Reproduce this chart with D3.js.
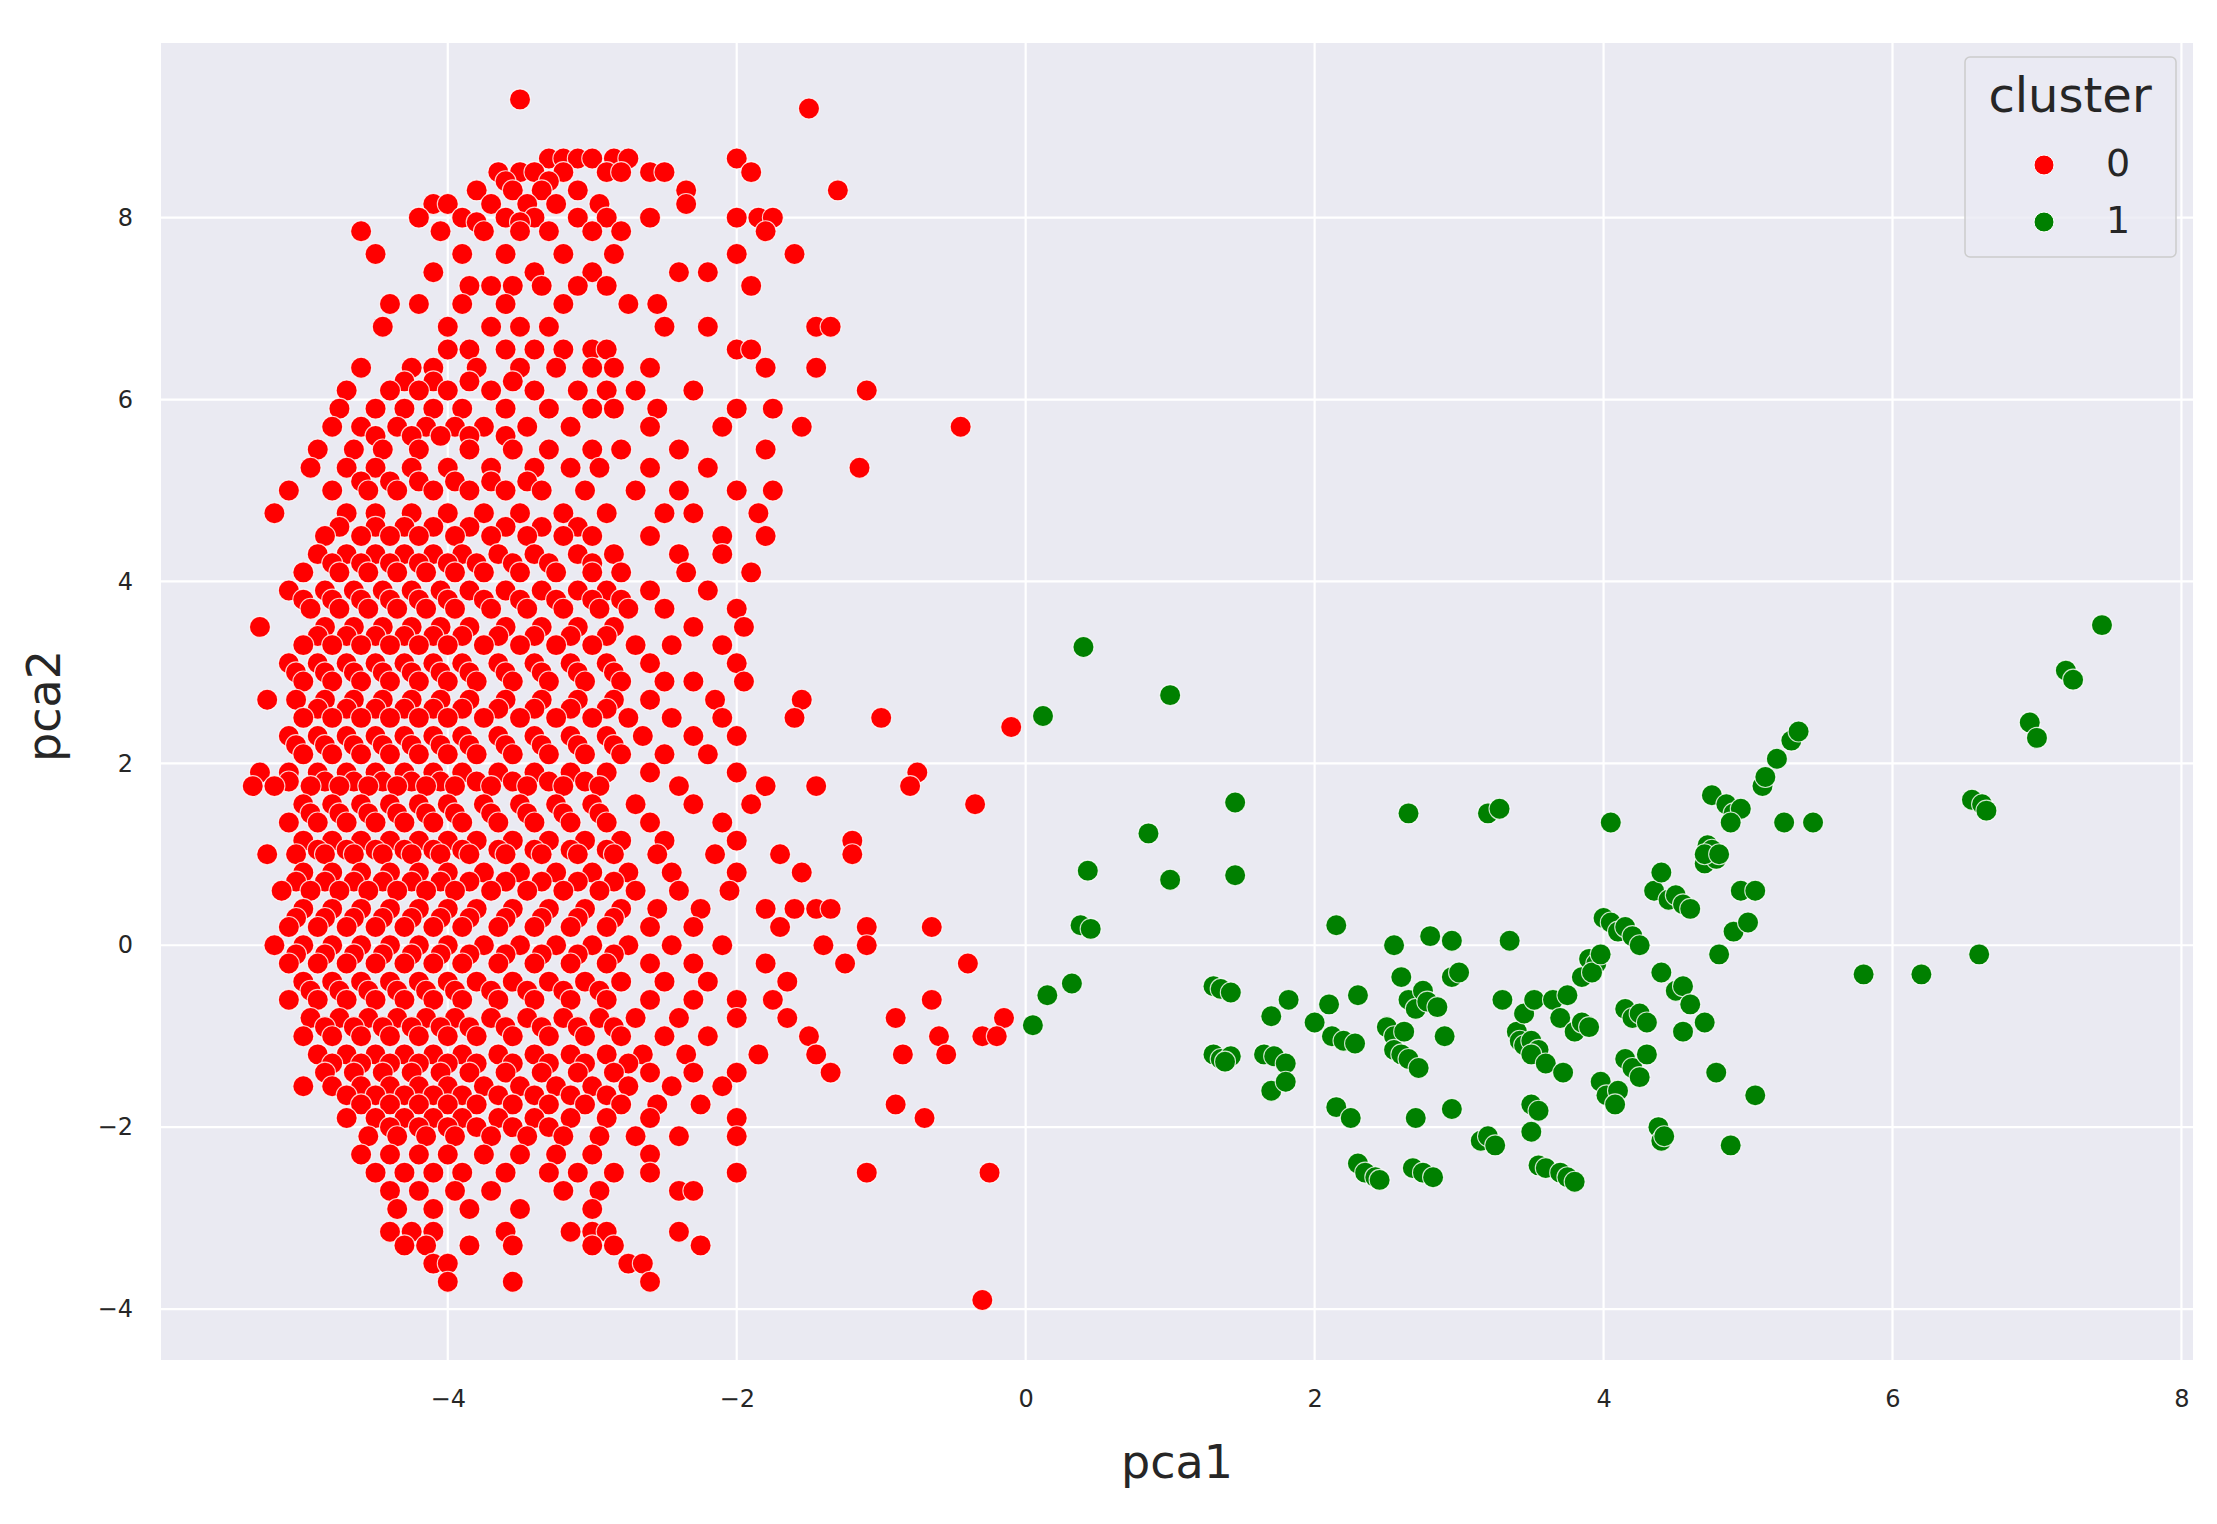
<!DOCTYPE html>
<html><head><meta charset="utf-8">
<script src="https://cdn.jsdelivr.net/npm/d3@7"></script>
<style>body{margin:0;background:#fff}svg text{font-family:"DejaVu Sans",sans-serif;fill:#262626}</style>
</head><body>
<script>
const xTicks=[-4,-2,0,2,4,6,8];
const yTicks=[-4,-2,0,2,4,6,8];
const clusters=["0","1"];
const colors=["red","green"];
// cluster 0: rows of [pca2, [pca1 values]]
const redRows=[
[9.3,[-3.5]],[9.2,[-1.5]],
[8.65,[-3.3,-3.2,-3.1,-3.0,-2.85,-2.75,-2.0]],
[8.5,[-3.65,-3.5,-3.4,-3.2,-2.9,-2.8,-2.6,-2.5,-1.9]],
[8.4,[-3.6,-3.3]],
[8.3,[-3.8,-3.55,-3.35,-3.1,-2.35,-1.3]],
[8.15,[-4.1,-4.0,-3.7,-3.45,-3.25,-2.95,-2.35]],
[8.0,[-4.2,-3.9,-3.6,-3.4,-3.1,-2.9,-2.6,-2.0,-1.85,-1.75]],
[7.95,[-3.8,-3.5]],
[7.85,[-4.6,-4.05,-3.75,-3.5,-3.3,-3.0,-2.8,-1.8]],
[7.6,[-4.5,-3.9,-3.6,-3.2,-2.85,-2.0,-1.6]],
[7.4,[-4.1,-3.4,-3.0,-2.4,-2.2]],
[7.25,[-3.85,-3.7,-3.55,-3.35,-3.1,-2.9,-1.9]],
[7.05,[-4.4,-4.2,-3.9,-3.6,-3.2,-2.75,-2.55]],
[6.8,[-4.45,-4.0,-3.7,-3.5,-3.3,-2.5,-2.2,-1.45,-1.35]],
[6.55,[-4.0,-3.85,-3.6,-3.4,-3.2,-3.0,-2.9,-2.0,-1.9]],
[6.35,[-4.6,-4.25,-4.1,-3.8,-3.5,-3.25,-3.0,-2.85,-2.6,-1.8,-1.45]],
[6.2,[-4.3,-4.1,-3.85,-3.55]],
[6.1,[-4.7,-4.4,-4.2,-4.0,-3.7,-3.4,-3.1,-2.9,-2.7,-2.3,-1.1]],
[5.9,[-4.75,-4.5,-4.3,-4.1,-3.9,-3.6,-3.3,-3.0,-2.85,-2.55,-2.0,-1.75]],
[5.7,[-4.8,-4.6,-4.35,-4.15,-3.95,-3.75,-3.45,-3.15,-2.6,-2.1,-1.55,-0.45]],
[5.6,[-4.5,-4.25,-4.05,-3.85,-3.6]],
[5.45,[-4.9,-4.65,-4.45,-4.2,-3.85,-3.55,-3.3,-3.0,-2.8,-2.4,-1.8]],
[5.25,[-4.95,-4.7,-4.5,-4.25,-4.0,-3.7,-3.4,-3.15,-2.95,-2.6,-2.2,-1.15]],
[5.1,[-4.6,-4.4,-4.2,-3.95,-3.7,-3.45]],
[5.0,[-5.1,-4.8,-4.55,-4.35,-4.1,-3.85,-3.6,-3.35,-3.05,-2.7,-2.4,-2.0,-1.75]],
[4.75,[-5.2,-4.7,-4.5,-4.25,-4.0,-3.75,-3.5,-3.2,-2.9,-2.5,-2.3,-1.85]],
[4.6,[-4.75,-4.5,-4.3,-4.1,-3.85,-3.6,-3.35,-3.1]],
[4.5,[-4.85,-4.6,-4.4,-4.2,-3.95,-3.7,-3.45,-3.2,-3.0,-2.6,-2.1,-1.8]],
[4.3,[-4.9,-4.7,-4.5,-4.3,-4.1,-3.9,-3.65,-3.4,-3.1,-2.85,-2.4,-2.1]],
[4.2,[-4.8,-4.6,-4.4,-4.2,-4.0,-3.8,-3.55,-3.3,-3.0]],
[4.1,[-5.0,-4.75,-4.55,-4.35,-4.15,-3.95,-3.75,-3.5,-3.25,-3.0,-2.8,-2.35,-1.9]],
[3.9,[-5.1,-4.85,-4.65,-4.45,-4.25,-4.05,-3.85,-3.6,-3.35,-3.1,-2.9,-2.6,-2.2]],
[3.8,[-5.0,-4.8,-4.6,-4.4,-4.2,-4.0,-3.75,-3.5,-3.25,-3.0,-2.8]],
[3.7,[-4.95,-4.75,-4.55,-4.35,-4.15,-3.95,-3.7,-3.45,-3.2,-2.95,-2.75,-2.5,-2.0]],
[3.5,[-5.3,-4.85,-4.65,-4.45,-4.25,-4.05,-3.85,-3.6,-3.35,-3.1,-2.85,-2.3,-1.95]],
[3.4,[-4.9,-4.7,-4.5,-4.3,-4.1,-3.9,-3.65,-3.4,-3.15,-2.9]],
[3.3,[-5.0,-4.8,-4.6,-4.4,-4.2,-4.0,-3.75,-3.5,-3.25,-3.0,-2.7,-2.45,-2.1]],
[3.1,[-5.1,-4.9,-4.7,-4.5,-4.3,-4.1,-3.9,-3.65,-3.4,-3.15,-2.9,-2.6,-2.0]],
[3.0,[-5.05,-4.85,-4.65,-4.45,-4.25,-4.05,-3.85,-3.6,-3.35,-3.1,-2.85]],
[2.9,[-5.0,-4.8,-4.6,-4.4,-4.2,-4.0,-3.8,-3.55,-3.3,-3.05,-2.8,-2.5,-2.3,-1.95]],
[2.7,[-5.25,-5.05,-4.85,-4.65,-4.45,-4.25,-4.05,-3.85,-3.6,-3.35,-3.1,-2.85,-2.6,-2.15,-1.55]],
[2.6,[-4.9,-4.7,-4.5,-4.3,-4.1,-3.9,-3.65,-3.4,-3.15,-2.9]],
[2.5,[-5.0,-4.8,-4.6,-4.4,-4.2,-4.0,-3.75,-3.5,-3.25,-3.0,-2.75,-2.45,-2.1,-1.6,-1.0]],
[2.4,[-0.1]],
[2.3,[-5.1,-4.9,-4.7,-4.5,-4.3,-4.1,-3.9,-3.65,-3.4,-3.15,-2.9,-2.65,-2.3,-2.0]],
[2.2,[-5.05,-4.85,-4.65,-4.45,-4.25,-4.05,-3.85,-3.6,-3.35,-3.1,-2.85]],
[2.1,[-5.0,-4.8,-4.6,-4.4,-4.2,-4.0,-3.8,-3.55,-3.3,-3.05,-2.8,-2.5,-2.2]],
[1.9,[-5.3,-5.1,-4.9,-4.7,-4.5,-4.3,-4.1,-3.9,-3.65,-3.4,-3.15,-2.9,-2.6,-2.0,-0.75]],
[1.8,[-5.1,-4.85,-4.65,-4.45,-4.25,-4.05,-3.8,-3.55,-3.3,-3.05]],
[1.75,[-5.35,-5.2,-4.95,-4.75,-4.55,-4.35,-4.15,-3.95,-3.7,-3.45,-3.2,-2.95,-2.4,-1.8,-1.45,-0.8]],
[1.55,[-5.0,-4.8,-4.6,-4.4,-4.2,-4.0,-3.75,-3.5,-3.25,-3.0,-2.7,-2.3,-1.9,-0.35]],
[1.45,[-4.95,-4.75,-4.55,-4.35,-4.15,-3.95,-3.7,-3.45,-3.2,-2.95]],
[1.35,[-5.1,-4.9,-4.7,-4.5,-4.3,-4.1,-3.9,-3.65,-3.4,-3.15,-2.9,-2.6,-2.1]],
[1.15,[-5.0,-4.8,-4.6,-4.4,-4.2,-4.0,-3.8,-3.55,-3.3,-3.05,-2.8,-2.5,-2.0,-1.2]],
[1.05,[-4.9,-4.7,-4.5,-4.3,-4.1,-3.9,-3.65,-3.4,-3.15,-2.9]],
[1.0,[-5.25,-5.05,-4.85,-4.65,-4.45,-4.25,-4.05,-3.85,-3.6,-3.35,-3.1,-2.85,-2.55,-2.15,-1.7,-1.2]],
[0.8,[-5.0,-4.8,-4.6,-4.4,-4.2,-4.0,-3.75,-3.5,-3.25,-3.0,-2.75,-2.45,-2.0,-1.55]],
[0.7,[-5.05,-4.85,-4.65,-4.45,-4.25,-4.05,-3.85,-3.6,-3.35,-3.1,-2.85]],
[0.6,[-5.15,-4.95,-4.75,-4.55,-4.35,-4.15,-3.95,-3.7,-3.45,-3.2,-2.95,-2.7,-2.4,-2.05]],
[0.4,[-5.0,-4.8,-4.6,-4.4,-4.2,-4.0,-3.8,-3.55,-3.3,-3.05,-2.8,-2.55,-2.25,-1.8,-1.45,-1.35,-1.6]],
[0.3,[-5.05,-4.85,-4.65,-4.45,-4.25,-4.05,-3.85,-3.6,-3.35,-3.1,-2.85]],
[0.2,[-5.1,-4.9,-4.7,-4.5,-4.3,-4.1,-3.9,-3.65,-3.4,-3.15,-2.9,-2.6,-2.3,-1.7,-1.1,-0.65]],
[0.0,[-5.2,-5.0,-4.8,-4.6,-4.4,-4.2,-4.0,-3.75,-3.5,-3.25,-3.0,-2.75,-2.45,-2.1,-1.4,-1.1]],
[-0.1,[-5.05,-4.85,-4.65,-4.45,-4.25,-4.05,-3.85,-3.6,-3.35,-3.1,-2.85]],
[-0.2,[-5.1,-4.9,-4.7,-4.5,-4.3,-4.1,-3.9,-3.65,-3.4,-3.15,-2.9,-2.6,-2.3,-1.8,-1.25,-0.4]],
[-0.4,[-5.0,-4.8,-4.6,-4.4,-4.2,-4.0,-3.8,-3.55,-3.3,-3.05,-2.8,-2.5,-2.2,-1.65]],
[-0.5,[-4.95,-4.75,-4.55,-4.35,-4.15,-3.95,-3.7,-3.45,-3.2,-2.95]],
[-0.6,[-5.1,-4.9,-4.7,-4.5,-4.3,-4.1,-3.9,-3.65,-3.4,-3.15,-2.9,-2.6,-2.3,-2.0,-1.75,-0.65]],
[-0.8,[-4.95,-4.75,-4.55,-4.35,-4.15,-3.95,-3.7,-3.45,-3.2,-2.95,-2.7,-2.4,-2.0,-1.65,-0.9,-0.15]],
[-0.9,[-4.85,-4.65,-4.45,-4.25,-4.05,-3.85,-3.6,-3.35,-3.1,-2.85]],
[-1.0,[-5.0,-4.8,-4.6,-4.4,-4.2,-4.0,-3.8,-3.55,-3.3,-3.05,-2.8,-2.5,-2.2,-1.5,-0.6,-0.3,-0.2]],
[-1.2,[-4.9,-4.7,-4.5,-4.3,-4.1,-3.9,-3.65,-3.4,-3.15,-2.9,-2.65,-2.35,-1.85,-1.45,-0.85,-0.55]],
[-1.3,[-4.8,-4.6,-4.4,-4.2,-4.0,-3.8,-3.55,-3.3,-3.05,-2.75]],
[-1.4,[-4.85,-4.65,-4.45,-4.25,-4.05,-3.85,-3.6,-3.35,-3.1,-2.85,-2.6,-2.3,-2.0,-1.35]],
[-1.55,[-5.0,-4.8,-4.6,-4.4,-4.2,-4.0,-3.75,-3.5,-3.25,-3.0,-2.75,-2.45,-2.1]],
[-1.65,[-4.7,-4.5,-4.3,-4.1,-3.9,-3.65,-3.4,-3.15,-2.9]],
[-1.75,[-4.6,-4.4,-4.2,-4.0,-3.8,-3.55,-3.3,-3.05,-2.8,-2.55,-2.25,-0.9]],
[-1.9,[-4.7,-4.5,-4.3,-4.1,-3.9,-3.65,-3.4,-3.15,-2.9,-2.6,-2.0,-0.7]],
[-2.0,[-4.4,-4.2,-4.0,-3.8,-3.55,-3.3]],
[-2.1,[-4.55,-4.35,-4.15,-3.95,-3.7,-3.45,-3.2,-2.95,-2.7,-2.4,-2.0]],
[-2.3,[-4.6,-4.4,-4.2,-4.0,-3.75,-3.5,-3.25,-3.0,-2.6]],
[-2.5,[-4.5,-4.3,-4.1,-3.9,-3.6,-3.3,-3.1,-2.85,-2.6,-2.0,-1.1,-0.25]],
[-2.7,[-4.4,-4.2,-3.95,-3.7,-3.2,-2.95,-2.4,-2.3]],
[-2.9,[-4.35,-4.1,-3.85,-3.5,-3.0]],
[-3.15,[-4.4,-4.25,-4.1,-3.6,-3.15,-3.0,-2.9,-2.4]],
[-3.3,[-4.3,-4.15,-3.85,-3.55,-3.0,-2.85,-2.25]],
[-3.5,[-4.1,-4.0,-2.75,-2.65]],
[-3.7,[-4.0,-3.55,-2.6]],
[-3.9,[-0.3]]
];
// cluster 1: [pca1, pca2]
const greenPts=[[0.05,-0.88],[0.15,-0.55],[0.12,2.52],[0.4,3.28],[0.32,-0.42],[0.38,0.22],[0.45,0.18],[0.43,0.82],[0.85,1.23],[1.0,2.75],[1.0,0.72],[1.45,1.57],[1.45,0.77],[1.3,-0.45],[1.35,-0.48],[1.42,-0.52],[1.3,-1.2],[1.35,-1.25],[1.42,-1.22],[1.38,-1.28],[1.7,-0.78],[1.82,-0.6],[1.65,-1.2],[1.72,-1.22],[1.8,-1.3],[1.7,-1.6],[1.8,-1.5],[2.0,-0.85],[2.1,-0.65],[2.15,0.22],[2.12,-1.0],[2.2,-1.05],[2.28,-1.08],[2.15,-1.78],[2.25,-1.9],[2.3,-2.4],[2.35,-2.5],[2.42,-2.55],[2.45,-2.58],[2.3,-0.55],[2.5,-0.9],[2.55,-1.0],[2.55,-1.15],[2.6,-1.2],[2.65,-1.25],[2.72,-1.35],[2.55,0.0],[2.6,-0.35],[2.65,-0.6],[2.7,-0.7],[2.62,-0.95],[2.75,-0.5],[2.78,-0.62],[2.85,-0.68],[2.8,0.1],[2.95,0.05],[2.95,-0.35],[3.0,-0.3],[2.9,-1.0],[2.65,1.45],[2.7,-1.9],[2.95,-1.8],[2.68,-2.45],[2.75,-2.5],[2.82,-2.55],[3.15,-2.15],[3.2,-2.1],[3.25,-2.2],[3.2,1.45],[3.28,1.5],[3.35,0.05],[3.3,-0.6],[3.4,-0.95],[3.42,-1.05],[3.45,-1.1],[3.5,-1.05],[3.55,-1.15],[3.5,-1.2],[3.6,-1.3],[3.45,-0.75],[3.52,-0.6],[3.5,-1.75],[3.55,-1.82],[3.5,-2.05],[3.55,-2.42],[3.6,-2.45],[3.7,-2.5],[3.75,-2.55],[3.8,-2.6],[3.65,-0.6],[3.7,-0.8],[3.75,-0.55],[3.8,-0.95],[3.85,-0.85],[3.9,-0.9],[3.72,-1.4],[3.85,-0.35],[3.9,-0.15],[3.95,-0.2],[3.92,-0.3],[3.98,-0.1],[4.0,0.3],[4.05,0.25],[4.1,0.15],[4.15,0.2],[4.2,0.1],[4.25,0.0],[4.05,1.35],[3.98,-1.5],[4.02,-1.65],[4.1,-1.6],[4.08,-1.75],[4.15,-0.7],[4.2,-0.8],[4.25,-0.75],[4.3,-0.85],[4.15,-1.25],[4.2,-1.35],[4.25,-1.45],[4.3,-1.2],[4.35,0.6],[4.4,0.8],[4.45,0.5],[4.5,0.55],[4.55,0.45],[4.6,0.4],[4.38,-2.0],[4.4,-2.15],[4.42,-2.1],[4.4,-0.3],[4.5,-0.5],[4.55,-0.45],[4.6,-0.65],[4.55,-0.95],[4.7,-0.85],[4.7,0.9],[4.72,1.1],[4.75,1.05],[4.78,0.95],[4.7,1.0],[4.8,1.0],[4.75,1.65],[4.85,1.55],[4.9,1.45],[4.95,1.5],[4.88,1.35],[4.9,0.15],[5.0,0.25],[4.95,0.6],[4.8,-0.1],[4.78,-1.4],[4.88,-2.2],[5.05,0.6],[5.05,-1.65],[5.1,1.75],[5.12,1.85],[5.2,2.05],[5.3,2.25],[5.35,2.35],[5.25,1.35],[5.45,1.35],[5.8,-0.32],[6.2,-0.32],[6.55,1.6],[6.62,1.55],[6.65,1.48],[6.6,-0.1],[6.95,2.45],[7.0,2.28],[7.2,3.02],[7.25,2.92],[7.45,3.52]];

const W=2217,H=1524,L=161,R=2193,T=43,B=1360;
const svg=d3.select("body").append("svg").attr("width",W).attr("height",H);
const x=d3.scaleLinear().domain([-5.985,8.08]).range([L,R]);
const y=d3.scaleLinear().domain([-4.56,9.92]).range([B,T]);
svg.append("rect").attr("x",L).attr("y",T).attr("width",R-L).attr("height",B-T).attr("fill","#eaeaf2");
const g=svg.append("g");
g.selectAll(".gx").data(xTicks).join("line").attr("x1",d=>x(d)).attr("x2",d=>x(d)).attr("y1",T).attr("y2",B).attr("stroke","#fff").attr("stroke-width",2.2);
g.selectAll(".gy").data(yTicks).join("line").attr("y1",d=>y(d)).attr("y2",d=>y(d)).attr("x1",L).attr("x2",R).attr("stroke","#fff").attr("stroke-width",2.2);
const fmt=d=>d<0?"\u2212"+Math.abs(d):String(d);
const ax=svg.append("g").attr("transform",`translate(0,${B})`).call(d3.axisBottom(x).tickValues(xTicks).tickFormat(fmt).tickSize(0).tickPadding(30));
const ay=svg.append("g").attr("transform",`translate(${L},0)`).call(d3.axisLeft(y).tickValues(yTicks).tickFormat(fmt).tickSize(0).tickPadding(28));
[ax,ay].forEach(a=>{a.select(".domain").remove();a.selectAll("text").style("font-size","24px").style("fill","#262626").style("font-family","DejaVu Sans");});
const red=[];redRows.forEach(([yy,xs])=>xs.forEach(xx=>red.push([xx,yy])));
const pts=red.map(p=>({p,c:0})).concat(greenPts.map(p=>({p,c:1})));
svg.append("g").selectAll("circle").data(pts).join("circle")
 .attr("cx",d=>x(d.p[0])).attr("cy",d=>y(d.p[1])).attr("r",10.5)
 .attr("fill",d=>colors[d.c]).attr("stroke","#fff").attr("stroke-width",1.1).attr("stroke-opacity",0.8);
svg.append("text").attr("x",(L+R)/2).attr("y",1478).attr("text-anchor","middle").style("font-size","46px").text("pca1");
svg.append("text").attr("transform","translate(60,706) rotate(-90)").attr("text-anchor","middle").style("font-size","46px").text("pca2");
const lg=svg.append("g");
lg.append("rect").attr("x",1965).attr("y",57).attr("width",211).attr("height",200).attr("rx",5).attr("fill","#eaeaf2").attr("fill-opacity",0.8).attr("stroke","#cccccc").attr("stroke-width",1.5);
lg.append("text").attr("x",2070).attr("y",112).attr("text-anchor","middle").style("font-size","48px").text("cluster");
clusters.forEach((c,i)=>{
 lg.append("circle").attr("cx",2044).attr("cy",165+i*57).attr("r",10).attr("fill",colors[i]).attr("stroke","#fff").attr("stroke-width",1);
 lg.append("text").attr("x",2118).attr("y",176+i*57).attr("text-anchor","middle").style("font-size","38px").text(c);
});
</script>
</body></html>
